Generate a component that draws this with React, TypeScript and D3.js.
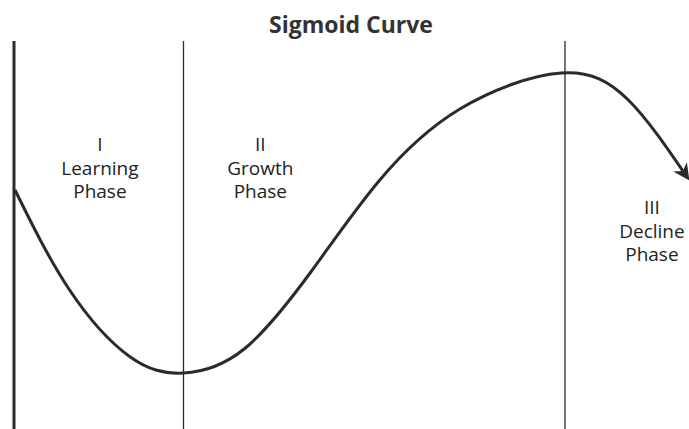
import React from "react";
import * as d3 from "d3";

// curve: x = time (0-100), y = performance (0 = trough, 100 = peak)
const curveX = [0, 8, 17, 25, 34, 44, 54, 66, 81, 91, 99.5];
const curveY = [61, 28, 5.5, 0, 8, 34, 64, 88, 100, 91, 66];

// phase boundaries (x positions) and labels
const boundaries = [0, 25, 81.6];
const phaseNames = [["I", "Learning", "Phase"], ["II", "Growth", "Phase"], ["III", "Decline", "Phase"]];
const labelX = [12.6, 36.4, 94.5];
const labelY = [74, 74, 53];

const width = 689;
const height = 429;

const App = () => {
  const x = d3.scaleLinear().domain([0, 100]).range([15, 689]);
  const y = d3.scaleLinear().domain([0, 100]).range([373, 73]);

  const line = d3
    .line<number>()
    .x((d, i) => x(curveX[i]))
    .y(d => y(d))
    .curve(d3.curveNatural);

  const ink = "#2b2b2b";

  return (
    <svg
      width={width}
      height={height}
      style={{ position: "absolute", left: 0, top: 0, background: "#fff" }}
      fontFamily="'Open Sans', sans-serif"
    >
      <defs>
        <marker id="arrow" viewBox="0 0 10 10" refX="6" refY="5" markerWidth="5.5" markerHeight="5.5" orient="auto">
          <path d="M0,0 L10,5 L0,10 L3,5 Z" fill={ink} />
        </marker>
      </defs>

      <text x={351} y={33} textAnchor="middle" fontSize="23" fontWeight="bold" fill="#333">
        Sigmoid Curve
      </text>

      {boundaries.map((b, i) => (
        <line
          key={i}
          x1={x(b) - (i === 0 ? 1 : 0)}
          x2={x(b) - (i === 0 ? 1 : 0)}
          y1={41}
          y2={height}
          stroke={ink}
          strokeWidth={i === 0 ? 3 : 1.3}
        />
      ))}

      <path d={line(curveY) || ""} fill="none" stroke={ink} strokeWidth={3} markerEnd="url(#arrow)" />

      {phaseNames.map((lines, i) => (
        <text key={i} textAnchor="middle" fontSize="19" fill="#222">
          {lines.map((t, j) => (
            <tspan key={j} x={x(labelX[i])} y={y(labelY[i]) + j * 23.5}>
              {t}
            </tspan>
          ))}
        </text>
      ))}
    </svg>
  );
};

export default App;
